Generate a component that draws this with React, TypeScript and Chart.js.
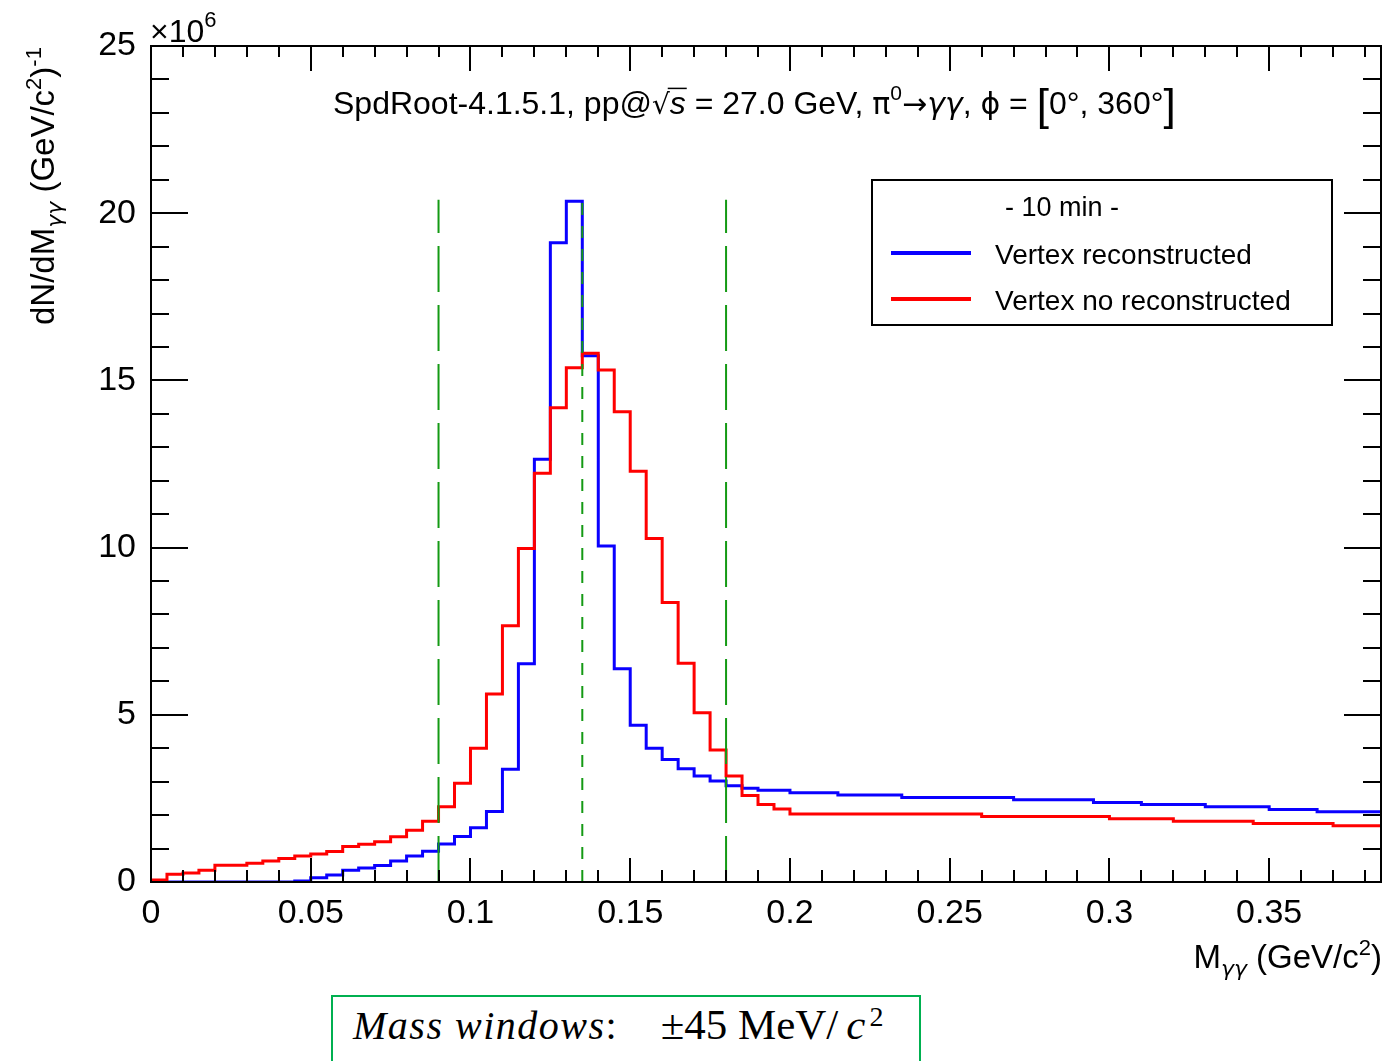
import React, { useEffect, useRef } from "react";
import { Chart, registerables } from "chart.js";

Chart.register(...registerables);

// ---- data (units of 10^6 per GeV/c^2), bins of 0.005 GeV/c^2 starting at 0 ----
const BIN_WIDTH = 0.005;
const X_MIN = 0;
const X_MAX = 0.385;
const Y_MIN = 0;
const Y_MAX = 25;

const vertexReconstructed = [
  0, 0, 0, 0, 0, 0, 0, 0, 0, 0.03,
  0.13, 0.21, 0.35, 0.42, 0.49, 0.63, 0.78, 0.92, 1.14, 1.36,
  1.62, 2.11, 3.37, 6.53, 12.64, 19.12, 20.36, 15.74, 10.05, 6.38,
  4.69, 4.0, 3.66, 3.39, 3.17, 3.02, 2.88, 2.8, 2.74, 2.74,
  2.67, 2.67, 2.67, 2.6, 2.6, 2.6, 2.6, 2.53, 2.53, 2.53,
  2.53, 2.53, 2.53, 2.53, 2.46, 2.46, 2.46, 2.46, 2.46, 2.38,
  2.38, 2.38, 2.32, 2.32, 2.32, 2.32, 2.25, 2.25, 2.25, 2.25,
  2.17, 2.17, 2.17, 2.1, 2.1, 2.1, 2.1,
];

const vertexNoReconstructed = [
  0.06, 0.23, 0.27, 0.35, 0.5, 0.5, 0.56, 0.63, 0.7, 0.78,
  0.84, 0.91, 1.06, 1.13, 1.2, 1.35, 1.55, 1.82, 2.25, 2.95,
  4.0, 5.62, 7.66, 9.97, 12.22, 14.18, 15.38, 15.81, 15.31, 14.06,
  12.28, 10.27, 8.36, 6.54, 5.06, 3.95, 3.17, 2.59, 2.32, 2.18,
  2.03, 2.03, 2.03, 2.03, 2.03, 2.03, 2.03, 2.03, 2.03, 2.03,
  2.03, 2.03, 1.96, 1.96, 1.96, 1.96, 1.96, 1.96, 1.96, 1.96,
  1.89, 1.89, 1.89, 1.89, 1.82, 1.82, 1.82, 1.82, 1.82, 1.75,
  1.75, 1.75, 1.75, 1.75, 1.68, 1.68, 1.68,
];

// mass window markers (GeV/c^2): lower edge, pi0 mass, upper edge
const windowLines = [0.09, 0.135, 0.18];
const windowTop = 20.4;

const xMajorTicks = [0, 0.05, 0.1, 0.15, 0.2, 0.25, 0.3, 0.35];
const yMajorTicks = [0, 5, 10, 15, 20, 25];

const seriesLabels = ["Vertex reconstructed", "Vertex no reconstructed"];
const legendHeader = "- 10 min -";

const BLUE = "#0a00ff";
const RED = "#ff0000";
const GREEN = "#149a14";
const SANS = '"Liberation Sans", Arial, Helvetica, sans-serif';
const GREEK = '"DejaVu Sans", "Liberation Sans", sans-serif';

type Seg = { t: string; size?: number; dy?: number; italic?: boolean; overline?: boolean; family?: string };

function drawRich(
  ctx: CanvasRenderingContext2D,
  segs: Seg[],
  x: number,
  y: number,
  base: number,
  align: "left" | "right" | "center"
) {
  const fontFor = (s: Seg) => `${s.italic ? "italic " : ""}${s.size ?? base}px ${s.family ?? SANS}`;
  let total = 0;
  for (const s of segs) {
    ctx.font = fontFor(s);
    total += ctx.measureText(s.t).width;
  }
  let cx = align === "left" ? x : align === "right" ? x - total : x - total / 2;
  ctx.textAlign = "left";
  ctx.textBaseline = "alphabetic";
  for (const s of segs) {
    ctx.font = fontFor(s);
    const w = ctx.measureText(s.t).width;
    ctx.fillText(s.t, cx, y + (s.dy ?? 0));
    if (s.overline) {
      const sz = s.size ?? base;
      ctx.save();
      ctx.lineWidth = 1.5;
      ctx.beginPath();
      ctx.moveTo(cx - 2, y - sz * 0.8);
      ctx.lineTo(cx + w + 1, y - sz * 0.8);
      ctx.stroke();
      ctx.restore();
    }
    cx += w;
  }
}

// points at the left edge of each bin, plus the right edge of the last bin;
// with stepped "before" each point's value is held horizontally up to the next point
const stepPoints = (vals: number[]) => {
  const pts = vals.map((v, i) => ({ x: +(X_MIN + i * BIN_WIDTH).toFixed(4), y: v }));
  pts.push({ x: +(X_MIN + vals.length * BIN_WIDTH).toFixed(4), y: vals[vals.length - 1] });
  return pts;
};

const decorPlugin = {
  id: "decor",
  afterDatasetsDraw(chart: any) {
    const { ctx, chartArea, scales } = chart;
    const { left, right, top, bottom } = chartArea;
    const x = scales.x;
    const y = scales.y;
    ctx.save();
    ctx.strokeStyle = "#000";
    ctx.fillStyle = "#000";
    ctx.lineWidth = 2;
    // frame
    ctx.strokeRect(left, top, right - left, bottom - top);
    // x ticks (minor each 0.01, major each 0.05), bottom and top, pointing inwards
    ctx.beginPath();
    for (let k = 0; k * 0.01 <= X_MAX + 1e-9; k++) {
      const v = k * 0.01;
      const isMajor = xMajorTicks.some((m) => Math.abs(m - v) < 1e-9);
      const px = Math.round(x.getPixelForValue(v));
      const lb = isMajor ? 24 : 12;
      const lt = isMajor ? 25 : 11;
      ctx.moveTo(px, bottom);
      ctx.lineTo(px, bottom - lb);
      ctx.moveTo(px, top);
      ctx.lineTo(px, top + lt);
    }
    // y ticks (minor each 1, major each 5), left and right
    for (let v = Y_MIN; v <= Y_MAX; v += 1) {
      const isMajor = yMajorTicks.includes(v);
      const py = Math.round(y.getPixelForValue(v));
      const l = isMajor ? 37 : 18;
      ctx.moveTo(left, py);
      ctx.lineTo(left + l, py);
      ctx.moveTo(right, py);
      ctx.lineTo(right - l, py);
    }
    ctx.stroke();

    // title
    drawRich(
      ctx,
      [
        { t: "SpdRoot-4.1.5.1, pp@" },
        { t: "\u221A", size: 28, family: GREEK },
        { t: "s", italic: true, overline: true },
        { t: " = 27.0 GeV, " },
        { t: "\u03C0", family: GREEK, size: 30 },
        { t: "0", size: 21, dy: -14 },
        { t: "\u2192", family: GREEK, size: 30 },
        { t: "\u03B3\u03B3", family: GREEK, italic: true, size: 30 },
        { t: ", " },
        { t: "\u03D5", family: GREEK, size: 30 },
        { t: " = " },
        { t: "[", size: 44, dy: 6 },
        { t: "0\u00B0, 360\u00B0" },
        { t: "]", size: 44, dy: 6 },
      ],
      333,
      114,
      32,
      "left"
    );

    // x10^6
    drawRich(ctx, [{ t: "\u00D710", size: 32 }, { t: "6", size: 22, dy: -15 }], 150, 42, 32, "left");

    // x axis title
    drawRich(
      ctx,
      [
        { t: "M" },
        { t: "\u03B3\u03B3", size: 22, dy: 8, family: GREEK, italic: true },
        { t: " (GeV/c" },
        { t: "2", size: 22, dy: -13 },
        { t: ")" },
      ],
      1382,
      968,
      33,
      "right"
    );

    // y axis title (rotated)
    ctx.save();
    ctx.translate(54, 325);
    ctx.rotate(-Math.PI / 2);
    drawRich(
      ctx,
      [
        { t: "dN/dM" },
        { t: "\u03B3\u03B3", size: 22, dy: 8, family: GREEK, italic: true },
        { t: " (GeV/c" },
        { t: "2", size: 22, dy: -13 },
        { t: ")" },
        { t: "-1", size: 22, dy: -13 },
      ],
      0,
      0,
      33,
      "left"
    );
    ctx.restore();

    // legend box
    const bx = 872, by = 180, bw = 460, bh = 145;
    ctx.fillStyle = "#fff";
    ctx.fillRect(bx, by, bw, bh);
    ctx.strokeStyle = "#000";
    ctx.lineWidth = 2;
    ctx.strokeRect(bx, by, bw, bh);
    ctx.fillStyle = "#000";
    ctx.font = `27px ${SANS}`;
    ctx.textAlign = "center";
    ctx.textBaseline = "alphabetic";
    ctx.fillText(legendHeader, 1062, 216);
    const rows = [
      { c: BLUE, yy: 253, label: seriesLabels[0] },
      { c: RED, yy: 299, label: seriesLabels[1] },
    ];
    for (const r of rows) {
      ctx.strokeStyle = r.c;
      ctx.lineWidth = 4;
      ctx.beginPath();
      ctx.moveTo(891, r.yy);
      ctx.lineTo(971, r.yy);
      ctx.stroke();
      ctx.fillStyle = "#000";
      ctx.textAlign = "left";
      ctx.font = `28px ${SANS}`;
      ctx.fillText(r.label, 995, r.yy + 11);
    }
    ctx.restore();
  },
};

export default function App() {
  const canvasRef = useRef<HTMLCanvasElement | null>(null);

  useEffect(() => {
    const canvas = canvasRef.current;
    if (!canvas) return;
    const greenSets = windowLines.map((v, i) => ({
      label: `window-${i}`,
      data: [
        { x: v, y: 0 },
        { x: v, y: windowTop },
      ],
      borderColor: GREEN,
      borderWidth: 2,
      borderDash: i === 1 ? [12, 11] : [46, 13],
      pointRadius: 0,
      fill: false,
      order: 0,
    }));
    const chart = new Chart(canvas, {
      type: "line",
      data: {
        datasets: [
          ...greenSets,
          {
            label: seriesLabels[1],
            data: stepPoints(vertexNoReconstructed),
            borderColor: RED,
            borderWidth: 3,
            stepped: "before",
            pointRadius: 0,
            fill: false,
            order: 1,
          },
          {
            label: seriesLabels[0],
            data: stepPoints(vertexReconstructed),
            borderColor: BLUE,
            borderWidth: 3,
            stepped: "before",
            pointRadius: 0,
            fill: false,
            order: 2,
          },
        ] as any,
      },
      options: {
        responsive: false,
        animation: false,
        devicePixelRatio: 1,
        layout: { padding: { top: 46, right: 8, left: 0, bottom: 0 } },
        plugins: {
          legend: { display: false },
          tooltip: { enabled: false },
          title: { display: false },
        },
        elements: { line: { tension: 0, borderJoinStyle: "miter" } },
        scales: {
          x: {
            type: "linear",
            min: X_MIN,
            max: X_MAX,
            grid: { display: false, drawTicks: false },
            border: { display: false },
            ticks: {
              stepSize: 0.05,
              includeBounds: false,
              autoSkip: false,
              maxRotation: 0,
              padding: 11,
              color: "#000",
              font: { family: SANS, size: 34 },
              callback: (v: any) => String(Math.round(Number(v) * 1000) / 1000),
            },
            afterFit: (s: any) => {
              s.height = 179;
            },
          },
          y: {
            type: "linear",
            min: Y_MIN,
            max: Y_MAX,
            grid: { display: false, drawTicks: false },
            border: { display: false },
            ticks: {
              stepSize: 5,
              padding: 15,
              color: "#000",
              font: { family: SANS, size: 34 },
              callback: (v: any) => String(v),
            },
            afterFit: (s: any) => {
              s.width = 151;
            },
          },
        } as any,
      },
      plugins: [decorPlugin],
    });
    return () => chart.destroy();
  }, []);

  return (
    <div
      style={{
        position: "fixed",
        left: 0,
        top: 0,
        width: 1389,
        height: 1061,
        overflow: "hidden",
        background: "#fff",
      }}
    >
      <canvas ref={canvasRef} width={1389} height={1061} style={{ display: "block" }} />
      <div
        style={{
          position: "absolute",
          left: 331,
          top: 995,
          width: 590,
          height: 90,
          boxSizing: "border-box",
          border: "2px solid #00b050",
          background: "#fff",
          fontFamily: '"Liberation Serif", "DejaVu Serif", serif',
          fontSize: 40,
          lineHeight: "56px",
          paddingLeft: 20,
          color: "#000",
          whiteSpace: "nowrap",
        }}
      >
        <span style={{ fontStyle: "italic", letterSpacing: 1.5 }}>Mass windows</span>
        <span>:</span>
        <span style={{ marginLeft: 44, fontSize: 43 }}>±45 MeV/</span>
        <span style={{ fontStyle: "italic", fontSize: 43, marginLeft: 8 }}>c</span>
        <sup style={{ fontSize: 28, verticalAlign: "top", lineHeight: "40px", marginLeft: 4 }}>2</sup>
      </div>
    </div>
  );
}
